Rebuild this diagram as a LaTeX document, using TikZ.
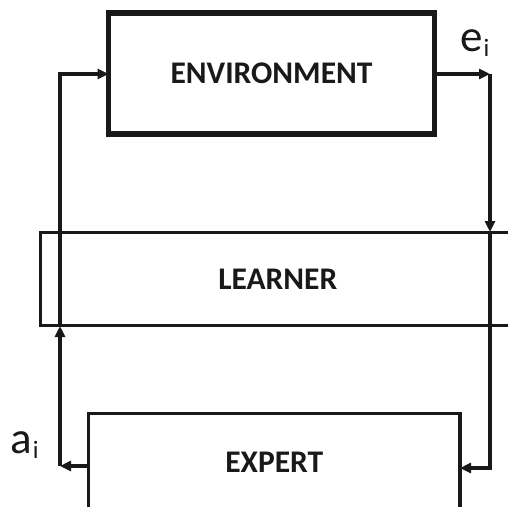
\documentclass[tikz,border=0pt]{standalone}
\usepackage{fontspec}
\setmainfont{Carlito}
\usetikzlibrary{arrows.meta}
\tikzset{
  blockbox/.style={draw=black!90, line width=3.6pt, inner sep=0pt, outer sep=0pt,
    font=\fontsize{31.5}{31.5}\selectfont\bfseries, text=black!90},
  mainbox/.style={blockbox, line width=5.5pt},
  flow/.style={draw=black!90, line width=3.4pt, -{Triangle[length=11pt,width=10pt]}},
  sig/.style={inner sep=0pt, anchor=base west, font=\fontsize{45}{45}\selectfont, text=black!90}
}
\newcommand{\subi}{\kern1pt\raisebox{-5pt}{\fontsize{25}{25}\selectfont i}}
\begin{document}
\begin{tikzpicture}[x=1pt, y=-1pt]
  \useasboundingbox (0,0) rectangle (508,506);
  \clip (0,0) rectangle (508,506);
  \fill[white] (0,0) rectangle (508,506);

  % the three blocks
  \node[mainbox, minimum width=326pt, minimum height=121pt] (env) at (271.5,73.5) {ENVIRONMENT};
  \node[blockbox, minimum width=474.5pt, minimum height=93pt] (learner) at (277.75,279) {LEARNER};
  \node[blockbox, minimum width=371.5pt, minimum height=97pt] (expert) at (274.25,462) {EXPERT};

  % corner points of the loop
  \coordinate (tr) at (490,74);
  \coordinate (lt) at (490,232);
  \coordinate (br) at (490,468);
  \coordinate (bl) at (60,466);
  \coordinate (lb) at (60,326);
  \coordinate (tl) at (60,74);

  % observation path: environment -> learner -> expert
  \draw[flow] (env.east |- tr) -- (tr);
  \draw[flow] (tr) -- (lt);
  \draw[flow] (lt) -- (br) -- (expert.east |- br);

  % action path: expert -> learner -> environment
  \draw[flow] (expert.west |- bl) -- (bl);
  \draw[flow] (bl) -- (lb);
  \draw[flow] (lb) -- (tl) -- (env.west |- tl);

  % signal labels
  \node[sig] (elabel) at (460,51) {e\subi};
  \node[sig] (alabel) at (10,453) {a\subi};
\end{tikzpicture}
\end{document}
